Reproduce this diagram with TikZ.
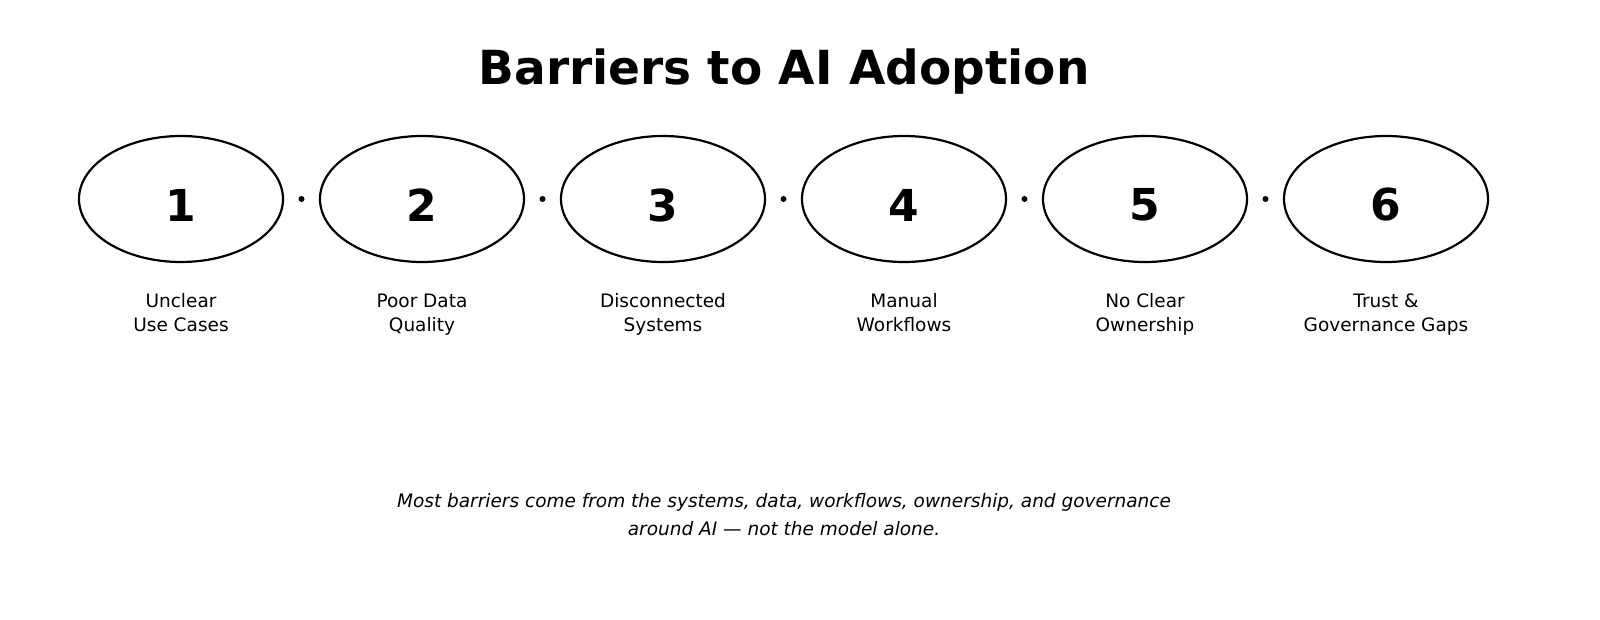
\documentclass[tikz,border=0pt]{standalone}
\usepackage{fontspec}
\setmainfont{DejaVu Sans}
\usetikzlibrary{shapes.geometric,calc}
\begin{document}
\begin{tikzpicture}[x=1pt,y=-1pt,
  bub/.style={draw,line width=2.2pt,ellipse,minimum width=204pt,minimum height=126pt,inner sep=0pt},
  num/.style={font=\fontsize{44}{44}\selectfont\bfseries},
  lab/.style={align=center,font=\fontsize{18.5}{24}\selectfont,anchor=north,inner sep=0pt},
  dot/.style={circle,fill,inner sep=0pt,minimum size=6pt}]
\useasboundingbox (0,0) rectangle (1600,620);
\node[font=\fontsize{47}{47}\selectfont\bfseries] (title) at (784,72) {Barriers to AI Adoption};
\foreach \i/\x/\t in {1/181/{\strut Unclear\\\strut Use Cases},2/422/{\strut Poor Data\\\strut Quality},3/663/{\strut Disconnected\\\strut Systems},4/904/{\strut Manual\\\strut Workflows},5/1145/{\strut No Clear\\\strut Ownership},6/1386/{\strut Trust \&\\\strut Governance Gaps}}{
  \node[bub] (e\i) at (\x,199) {};
  \node[num] (n\i) at (\x,205) {\i};
  \node[lab] (l\i) at (\x,290) {\t};
}
\foreach \i in {1,...,5}{
  \pgfmathtruncatemacro\j{\i+1}
  \node[dot] (d\i) at ($(e\i.east)!0.5!(e\j.west)$) {};
}
\node[align=center,font=\fontsize{18.5}{28}\selectfont\itshape] (foot) at (784,515) {Most barriers come from the systems, data, workflows, ownership, and governance\\around AI — not the model alone.};
\end{tikzpicture}
\end{document}
